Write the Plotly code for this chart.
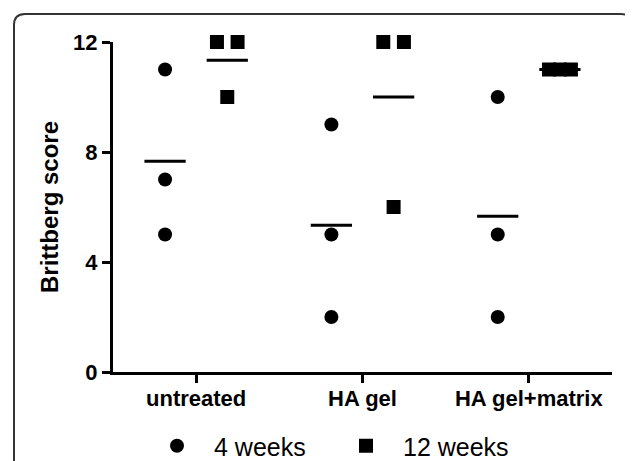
import plotly.graph_objects as go

# ---- data ----
categories = ["untreated", "HA gel", "HA gel+matrix"]
weeks4 = [[11, 7, 5], [9, 5, 2], [10, 5, 2]]
weeks12 = [[12, 12, 10], [12, 12, 6], [11, 11, 11]]
series_names = ["4 weeks", "12 weeks"]
y_ticks = [0, 4, 8, 12]

# ---- style / layout constants ----
W, H = 633, 461
PAGE = 8                       # page body margin in the browser
PLOT_L, PLOT_R, PLOT_T, PLOT_B = 113, 612, 42, 372   # target screen pixels
L, T = PLOT_L - PAGE, PLOT_T - PAGE
R, B = W - (PLOT_R - PAGE), H - (PLOT_B - PAGE)
PW, PH = PLOT_R - PLOT_L, PLOT_B - PLOT_T
GROUP_OFF = 0.187         # offset of each series from category centre
MEAN_HALF = 0.124         # half-width of mean bar
JITTER = {1: [0.0], 2: [-0.062, 0.062], 3: [-0.066, 0.0, 0.066]}
FONT = "Arial, Liberation Sans, sans-serif"


def spread(vals, centre):
    xs = []
    counts = {v: vals.count(v) for v in vals}
    seen = {}
    for v in vals:
        k = seen.get(v, 0)
        seen[v] = k + 1
        xs.append(centre + JITTER[counts[v]][k])
    return xs


fig = go.Figure()

series = [(weeks4, -GROUP_OFF, "circle"), (weeks12, GROUP_OFF, "square")]
for (data, off, sym), name in zip(series, series_names):
    mx, my = [], []
    for i, vals in enumerate(data):
        m = sum(vals) / len(vals)
        c = i + off
        mx += [c - MEAN_HALF, c + MEAN_HALF, None]
        my += [m, m, None]
    fig.add_trace(go.Scatter(x=mx, y=my, mode="lines",
                             line=dict(color="black", width=3),
                             showlegend=False, hoverinfo="skip",
                             cliponaxis=False))

for (data, off, sym), name in zip(series, series_names):
    xs, ys = [], []
    for i, vals in enumerate(data):
        xs += spread(vals, i + off)
        ys += vals
    fig.add_trace(go.Scatter(x=xs, y=ys, mode="markers", name=name,
                             marker=dict(symbol=sym, size=14, color="black",
                                         line=dict(width=0)),
                             cliponaxis=False))


def xp(px):
    return (px - PLOT_L) / PW


def yp(py):
    return (PLOT_B - py) / PH


# rounded frame
x0, x1, y0, y1, r = 14, 632, 14, 490, 11
path = (f"M {xp(x0)},{yp(y0 + r)} "
        f"Q {xp(x0)},{yp(y0)} {xp(x0 + r)},{yp(y0)} "
        f"L {xp(x1 - r)},{yp(y0)} "
        f"Q {xp(x1)},{yp(y0)} {xp(x1)},{yp(y0 + r)} "
        f"L {xp(x1)},{yp(y1)} L {xp(x0)},{yp(y1)} Z")
fig.add_shape(type="path", path=path, xref="paper", yref="paper",
              line=dict(color="#333333", width=2), layer="below")

fig.update_layout(
    width=W, height=H,
    margin=dict(l=L, r=R, t=T, b=B, autoexpand=False),
    paper_bgcolor="white", plot_bgcolor="white",
    showlegend=True,
    legend=dict(orientation="h", x=xp(140), xanchor="left",
                y=yp(446), yanchor="middle",
                font=dict(family=FONT, size=25, color="black"),
                itemwidth=64, entrywidth=110, entrywidthmode="pixels",
                bgcolor="rgba(0,0,0,0)"),
    xaxis=dict(range=[-0.5, 2.5], tickvals=list(range(len(categories))),
               ticktext=categories, showline=True, linecolor="black",
               linewidth=3, ticks="outside", ticklen=8, tickwidth=3,
               tickcolor="black", showgrid=False, zeroline=False,
               ticklabelstandoff=-3,
               tickfont=dict(family=FONT, size=22, color="black",
                             weight="bold")),
    yaxis=dict(range=[0, 12], tickvals=y_ticks, showline=True,
               linecolor="black", linewidth=3, ticks="outside", ticklen=8,
               tickwidth=3, tickcolor="black", showgrid=False,
               zeroline=False,
               tickfont=dict(family=FONT, size=22, color="black",
                             weight="bold"),
               title=dict(text="Brittberg score", standoff=8,
                          font=dict(family=FONT, size=24, color="black",
                                    weight="bold"))),
)

fig.write_html("out.html")
